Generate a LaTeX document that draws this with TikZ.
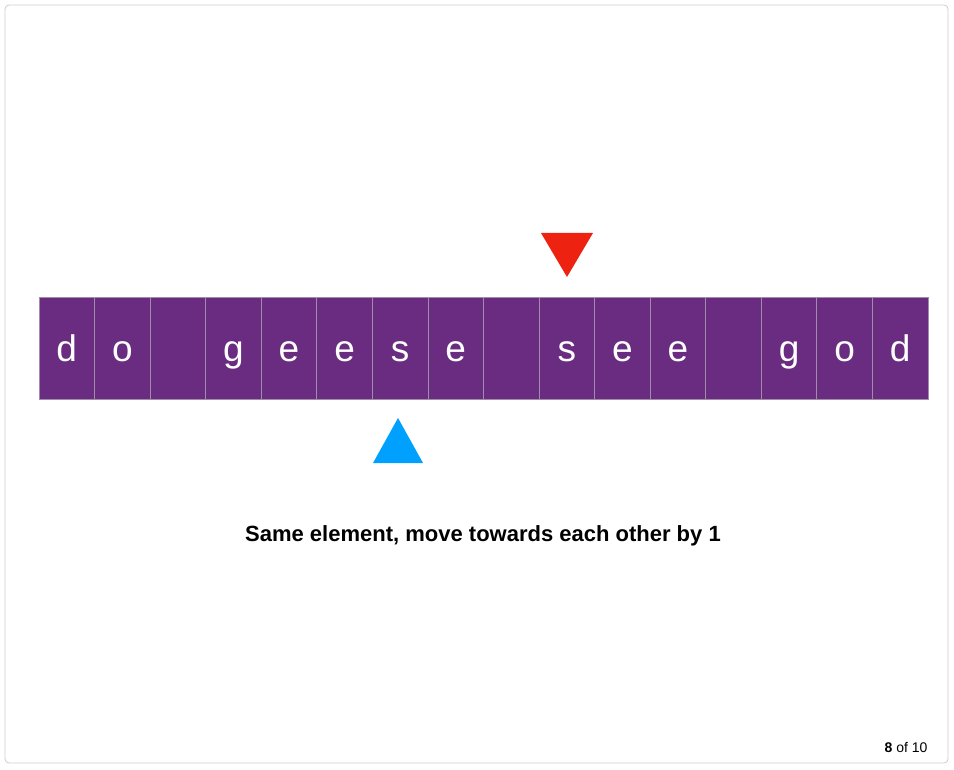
\documentclass[tikz,border=0pt]{standalone}
\usepackage{fontspec}
\setmainfont{Liberation Sans}
\definecolor{cellpurple}{HTML}{692C80}
\definecolor{celledge}{HTML}{A08CAA}
\definecolor{ptrred}{HTML}{EE2211}
\definecolor{ptrblue}{HTML}{00A0FF}
\definecolor{frame}{HTML}{CCCCCC}
\begin{document}
\begin{tikzpicture}[x=1pt,y=-1pt,
  cellbox/.style={draw=celledge,line width=0.8pt,fill=cellpurple,minimum width=55.56pt,minimum height=102pt,inner sep=0pt,anchor=north west,outer sep=0pt},
  letter/.style={text=white,font=\fontsize{37}{37}\selectfont,anchor=base,inner sep=0pt}]
\useasboundingbox (0,0) rectangle (954,770);
\draw[frame,line width=0.8pt,rounded corners=4pt] (5,5) rectangle (948,763);
\foreach \ch [count=\i from 0] in {d,o,{},g,e,e,s,e,{},s,e,e,{},g,o,d}{
  \node[cellbox] (c\i) at ({39+\i*55.56},297) {};
  \node[letter] (l\i) at ({39+(\i+0.5)*55.56},362) {\ch};
}
\fill[ptrred] (541,233) -- (593,233) -- (567,277) -- cycle;
\fill[ptrblue] (373,463) -- (423,463) -- (398,418) -- cycle;
\node[font=\bfseries\fontsize{22}{22}\selectfont] (cap) at (483,536) {Same element, move towards each other by 1};
\node[font=\fontsize{14}{14}\selectfont,anchor=east] (pg) at (931,747) {\textbf{8} of 10};
\end{tikzpicture}
\end{document}
